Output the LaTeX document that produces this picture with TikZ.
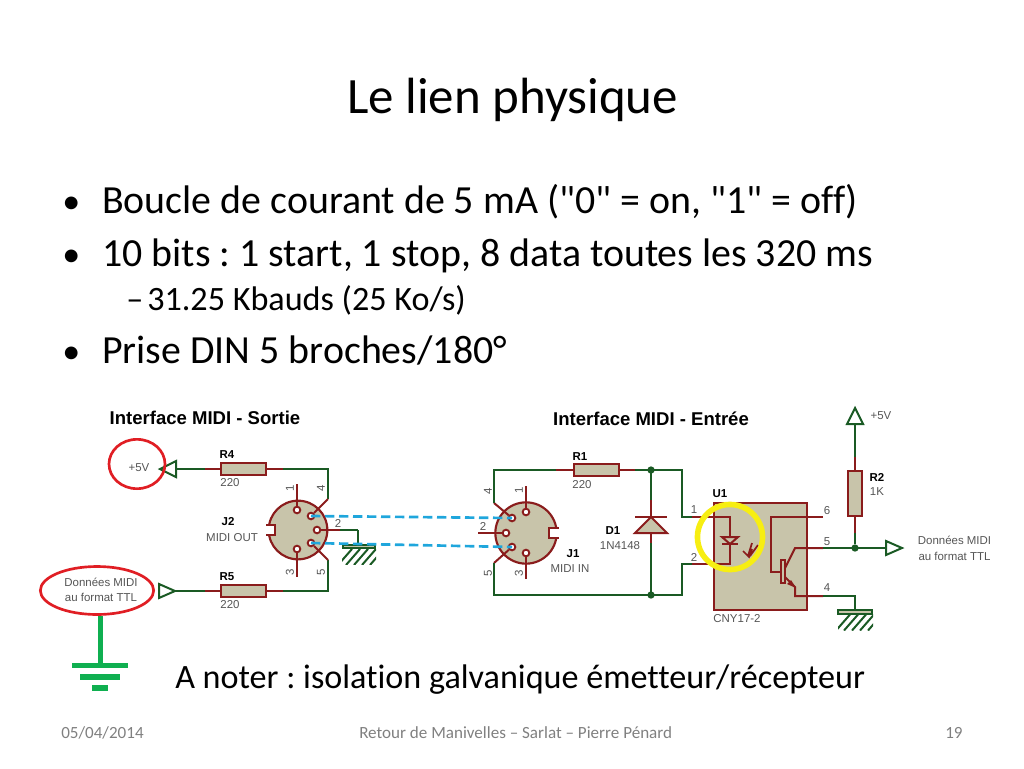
\documentclass[tikz,border=0pt]{standalone}
\usepackage{fontspec}
\setmainfont{Carlito}[Ligatures={TeXOff,CommonOff}]
\newfontfamily\schemafont{Liberation Sans}
\definecolor{wiregreen}{HTML}{1A5A24}
\definecolor{pinred}{HTML}{8A1C1C}
\definecolor{parttan}{HTML}{C8C4AA}
\definecolor{markred}{HTML}{E01E24}
\definecolor{markyellow}{HTML}{F7EE12}
\definecolor{earthgreen}{HTML}{0FAF50}
\definecolor{linkblue}{HTML}{1FA6DC}
\definecolor{lblgray}{HTML}{555555}
\definecolor{footgray}{HTML}{808080}
\tikzset{
  wire/.style={wiregreen,line width=1.5pt},
  pin/.style={pinred,line width=1.5pt},
  res/.style={draw=pinred,fill=parttan,line width=1.6pt,rectangle,inner sep=0pt},
  plug/.style={draw=pinred,fill=parttan,line width=1.6pt,circle,inner sep=0pt},
  hole/.style={draw=pinred,fill=white,line width=1.4pt,circle,inner sep=0pt,minimum size=5pt},
  dot/.style={fill=wiregreen,circle,inner sep=0pt,minimum size=5.5pt},
  term/.style={draw=wiregreen,fill=white,line width=1.5pt},
  earth/.style={wiregreen,line width=1.5pt},
  bigtxt/.style={inner sep=0pt,anchor=base west,font=\fontsize{29.9}{32}\selectfont},
  bigbul/.style={inner sep=0pt,anchor=base west,font=\fontsize{27}{32}\selectfont},
  foot/.style={inner sep=0pt,anchor=base west,text=footgray,font=\fontsize{12.8}{14}\selectfont},
  lbl/.style={inner sep=0pt,text=lblgray,font=\schemafont\fontsize{8.6}{10}\selectfont},
  ref/.style={inner sep=0pt,text=black,font=\schemafont\bfseries\fontsize{8.6}{10}\selectfont},
  head/.style={inner sep=0pt,text=black,font=\schemafont\bfseries\fontsize{13.9}{16}\selectfont},
  ring/.style={draw=markred,line width=2pt,ellipse,inner sep=0pt}
}
\usetikzlibrary{shapes.geometric}
\begin{document}
\frenchspacing
\begin{tikzpicture}[x=0.75pt,y=-0.75pt]
\useasboundingbox (0,0) rectangle (1024,768);
% slide text
\draw (347,113) node[inner sep=0pt,anchor=base west,font=\fontsize{38.2}{42}\selectfont](title) {Le lien physique};
\draw (62,213) node[bigbul](bulA) {•};
\draw (102,213) node[bigtxt](txtA) {Boucle de courant de 5 mA ("0" = on, "1" = off)};
\draw (62,266) node[bigbul](bulB) {•};
\draw (102,266) node[bigtxt](txtB) {10 bits : 1 start, 1 stop, 8 data toutes les 320 ms};
\draw (126,310) node[bigtxt,font=\fontsize{25.6}{28}\selectfont](bulC) {–};
\draw (147,310) node[bigtxt,font=\fontsize{25.6}{28}\selectfont](txtC) {31.25 Kbauds (25 Ko/s)};
\draw (62,363) node[bigbul](bulD) {•};
\draw (102,363) node[bigtxt](txtD) {Prise DIN 5 broches/180°};
\draw (175,688) node[bigtxt,font=\fontsize{25.6}{28}\selectfont](note) {A noter : isolation galvanique émetteur/récepteur};
\draw (61,738) node[foot](date) {05/04/2014};
\draw (359,738) node[foot](event) {Retour de Manivelles – Sarlat – Pierre Pénard};
\draw (945,738) node[foot](page) {19};
% headings
\draw (205,418) node[head](headout) {Interface MIDI - Sortie};
\draw (651,419) node[head](headin) {Interface MIDI - Entrée};
% left part
\draw (243.5,469) node[res,minimum width=34pt,minimum height=9pt](R4) {};
\draw (243.5,591) node[res,minimum width=34pt,minimum height=9pt](R5) {};
\draw (298,530) node[plug,minimum size=44pt](J2) {};
\coordinate (t4) at (176,469);
\coordinate (t5) at (159,591);
\coordinate (c4) at (328,469);
\coordinate (c5) at (328,591);
\coordinate (e4) at (328,499);
\coordinate (e5) at (328,560);
\coordinate (g2) at (358,530);
\coordinate (g2b) at (358,546);
\draw[wire] (t4) -- (R4.west);
\draw[wire] (R4.east) -- (c4) -- (e4);
\draw[wire] (t5) -- (R5.west);
\draw[wire] (R5.east) -- (c5) -- (e5);
\draw[pin] (R4.west) -- ++(-15,0);
\draw[pin] (R4.east) -- ++(16,0);
\draw[pin] (R5.west) -- ++(-15,0);
\draw[pin] (R5.east) -- ++(16,0);
\draw[term] (160,469) -- (176,461) -- (176,477) -- cycle;
\draw[term] (175,591) -- (159,584) -- (159,598) -- cycle;
\draw[pin,fill=white] (266,525) -- (275,525) -- (275,535) -- (266,535);
\draw (297,510) node[hole](j2a) {};
\draw (297,549) node[hole](j2c) {};
\draw (317,530) node[hole](j2b) {};
\draw (311,516) node[hole](j2d) {};
\draw (311,543) node[hole](j2e) {};
\draw[pin] (j2a) -- (297,484);
\draw[pin] (j2c) -- (297,577);
\draw[pin] (j2d) -- (e4);
\draw[pin] (j2e) -- (e5);
\draw[wire] (g2) -- (g2b);
\draw[wire] (j2b) -- (g2);
\draw[pin] (j2b) -- ++(23,0);
\draw[wire,fill=parttan,line width=1.5pt] (343,544.5) rectangle (375,548);
\begin{scope}
\clip (342,549) rectangle (376,564);
\draw[earth] (352,549) -- ++(-14,16) (360,549) -- ++(-14,16) (368,549) -- ++(-14,16) (376,549) -- ++(-14,16) (384,549) -- ++(-14,16);
\end{scope}
% labels left
\draw (227,455) node[ref](lblR4) {R4};
\draw (230,483) node[lbl](valR4) {220};
\draw (227,577) node[ref](lblR5) {R5};
\draw (230,605) node[lbl](valR5) {220};
\draw (228,522) node[ref](lblJ2) {J2};
\draw (232,538) node[lbl](valJ2) {MIDI OUT};
\draw (290,488) node[lbl,rotate=90](p2a) {1};
\draw (290,572) node[lbl,rotate=90](p2c) {3};
\draw (321,488) node[lbl,rotate=90](p2d) {4};
\draw (321,572) node[lbl,rotate=90](p2e) {5};
\draw (338,523) node[lbl](p2b) {2};
\draw (139,468) node[lbl](vout) {+5V};
\draw (101,590) node[lbl,align=center,font=\schemafont\fontsize{8.6}{11.2}\selectfont](dataout) {Données MIDI\\au format TTL};
\draw (137,464) node[ring,minimum width=42pt,minimum height=37pt](ringA) {};
\draw (97,590.5) node[ring,minimum width=85pt,minimum height=36pt](ringB) {};
% earth drawn by hand
\coordinate (gndA) at (100.5,665);
\draw[earthgreen,line width=3.8pt] (ringB.south -| gndA) -- (gndA);
\draw[earthgreen,line width=3.8pt] (72,665.5) -- (128,665.5);
\draw[earthgreen,line width=3.8pt] (80,677) -- (120,677);
\draw[earthgreen,line width=3.8pt] (92,688) -- (108,688);
% right part
\draw (596.5,470) node[res,minimum width=34pt,minimum height=9pt](R1) {};
\draw (526,533) node[plug,minimum size=46pt](J1) {};
\draw[pin,fill=white] (559,528) -- (549,528) -- (549,538) -- (559,538);
\draw (526,512) node[hole](j1a) {};
\draw (526,553) node[hole](j1c) {};
\draw (506,533) node[hole](j1b) {};
\draw (512,518) node[hole](j1d) {};
\draw (512,547) node[hole](j1e) {};
\coordinate (e1d) at (494,503);
\coordinate (e1e) at (494,563);
\coordinate (c1d) at (494,470);
\coordinate (c1e) at (494,595);
\coordinate (jA) at (651,470);
\coordinate (jB) at (651,595);
\coordinate (k1) at (682,470);
\coordinate (k2) at (682,595);
\coordinate (u1a) at (682,517);
\coordinate (u1b) at (682,564);
\draw[pin] (j1a) -- (526,486);
\draw[pin] (j1c) -- (526,579);
\draw[pin] (j1b) -- (478,533);
\draw[pin] (j1d) -- (e1d);
\draw[pin] (j1e) -- (e1e);
\draw[wire] (e1d) -- (c1d) -- (R1.west);
\draw[wire] (R1.east) -- (k1) -- (u1a) -- (713,517);
\draw[wire] (e1e) -- (c1e) -- (k2) -- (u1b) -- (713,564);
\draw[pin] (R1.west) -- ++(-17,0);
\draw[pin] (R1.east) -- ++(15,0);
\draw[wire] (jA) -- (jB);
\draw[pin] (651,500) -- (651,543);
\draw[pin,fill=parttan] (651,517) -- (667,533) -- (635,533) -- cycle;
\draw[pin] (635,517) -- (667,517);
\draw (651,470) node[dot](dotA) {};
\draw (651,595) node[dot](dotB) {};
% optocoupler
\draw (760.5,556.5) node[res,minimum width=70pt,minimum height=80pt](U1) {};
\draw[pin] (692,517) -- (730,517) -- (730,564) -- (692,564);
\draw[pin,fill=parttan] (730,544) -- (722,537) -- (738,537) -- cycle;
\draw[pin] (722,544) -- (738,544);
\draw[pin,line width=1.3pt] (752,543) -- (748,556) (758,545) -- (750,556) (743,551) -- (749,557) -- (752,549);
\draw[pin] (823,517) -- (771,517) -- (771,572) -- (782,572);
\draw[pin,fill=parttan,line width=1.2pt] (781,560) rectangle (785,583);
\draw[pin] (785,568) -- (795,548) -- (823,548);
\draw[pin] (785,577) -- (795,587) -- (795,596) -- (823,596);
\fill[pinred] (796,588) -- (787,584) -- (791,580) -- cycle;
% right supply and output
\draw (855,493.5) node[res,minimum width=10pt,minimum height=34pt](R2) {};
\draw (855,548) node[dot](dotC) {};
\coordinate (tv) at (855,424);
\coordinate (to) at (886,548);
\coordinate (gnd) at (855,612);
\draw[wire] (tv) -- (R2.north);
\draw[wire] (R2.south) -- (dotC);
\draw[wire] (823,548) -- (to);
\draw[wire] (823,596) -- (855,596) -- (gnd);
\draw[pin] (R2.north) -- ++(0,-13);
\draw[pin] (R2.south) -- ++(0,16);
\draw[term] (855,408) -- (863,424) -- (847,424) -- cycle;
\draw[term] (902,548) -- (886,541) -- (886,555) -- cycle;
\draw[wire,fill=parttan,line width=1.5pt] (838,610) rectangle (872,613.5);
\begin{scope}
\clip (838,614.5) rectangle (873,630);
\draw[earth] (850,614.5) -- ++(-14,16) (858,614.5) -- ++(-14,16) (866,614.5) -- ++(-14,16) (874,614.5) -- ++(-14,16) (882,614.5) -- ++(-14,16);
\end{scope}
% labels right
\draw (580,457) node[ref](lblR1) {R1};
\draw (582,485) node[lbl](valR1) {220};
\draw (613,531) node[ref](lblD1) {D1};
\draw (620,546) node[lbl](valD1) {1N4148};
\draw (573,554) node[ref](lblJ1) {J1};
\draw (570,569) node[lbl](valJ1) {MIDI IN};
\draw (519,490) node[lbl,rotate=90](p1a) {1};
\draw (519,573) node[lbl,rotate=90](p1c) {3};
\draw (488,491) node[lbl,rotate=90](p1d) {4};
\draw (488,573) node[lbl,rotate=90](p1e) {5};
\draw (483,526) node[lbl](p1b) {2};
\draw (720,494) node[ref](lblU1) {U1};
\draw (737,619) node[lbl](valU1) {CNY17-2};
\draw (694,510) node[lbl](u1p1) {1};
\draw (694,557) node[lbl](u1p2) {2};
\draw (827,511) node[lbl](u1p6) {6};
\draw (827,542) node[lbl](u1p5) {5};
\draw (827,588) node[lbl](u1p4) {4};
\draw (877,477) node[ref](lblR2) {R2};
\draw (877,492) node[lbl](valR2) {1K};
\draw (881,416) node[lbl](vin) {+5V};
\draw (954.5,548) node[lbl,align=center,font=\schemafont\fontsize{8.6}{11.8}\selectfont](datain) {Données MIDI\\au format TTL};
% marks
\draw (730,537) node[draw=markyellow,line width=4.2pt,circle,inner sep=0pt,minimum size=48.8pt](ringC) {};
\draw[linkblue,line width=2pt,dash pattern=on 7pt off 3.5pt] (j2d.center) -- (j1d.center);
\draw[linkblue,line width=2pt,dash pattern=on 7pt off 3.5pt] (j2e.center) -- (j1e.center);
\end{tikzpicture}
\end{document}
